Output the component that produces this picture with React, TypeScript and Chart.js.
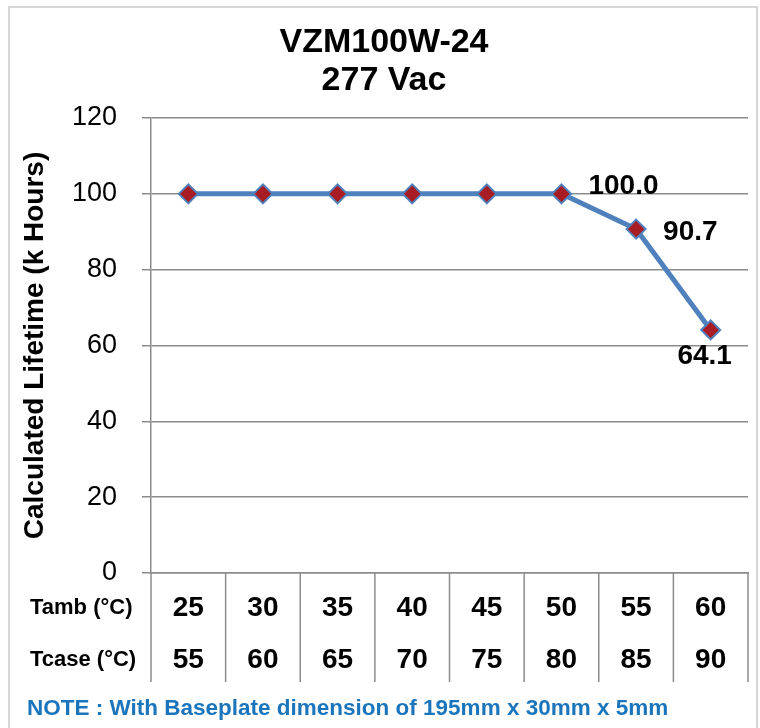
import React, { useEffect, useRef } from "react";
import { Chart, registerables } from "chart.js";

Chart.register(...registerables);

const TITLE = ["VZM100W-24", "277 Vac"];
const Y_TITLE = "Calculated Lifetime (k Hours)";
const TAMB = ["25", "30", "35", "40", "45", "50", "55", "60"];
const TCASE = ["55", "60", "65", "70", "75", "80", "85", "90"];
const LIFETIME = [100, 100, 100, 100, 100, 100, 90.7, 64.1];
const LABELED = [5, 6, 7];
const LABEL_POS = ["right", "right", "below"];
const ROW_HEADERS = ["Tamb (°C)", "Tcase (°C)"];
const NOTE = "NOTE : With Baseplate dimension of 195mm x 30mm x 5mm";
const Y_MIN = 0;
const Y_MAX = 120;
const Y_STEP = 20;

const FONT = "'Liberation Sans', Arial, Helvetica, sans-serif";
const GRID = "#8c8c8c";
const TABLE_H = 109;

const overlayPlugin = {
  id: "overlay",
  afterDraw(chart: any) {
    const ctx = chart.ctx;
    const meta = chart.getDatasetMeta(0);
    const xs = chart.scales.x;
    ctx.save();
    // table vertical lines
    ctx.strokeStyle = GRID;
    ctx.lineWidth = 1.5;
    for (let i = 0; i <= TAMB.length; i++) {
      const x = xs.getPixelForValue(i - 0.5);
      ctx.beginPath();
      ctx.moveTo(x, xs.top);
      ctx.lineTo(x, xs.top + TABLE_H);
      ctx.stroke();
    }
    // data labels
    ctx.fillStyle = "#000";
    ctx.font = `bold 28px ${FONT}`;
    ctx.textBaseline = "middle";
    LABELED.forEach((idx, k) => {
      const pt = meta.data[idx];
      const txt = LIFETIME[idx].toFixed(1);
      if (LABEL_POS[k] === "right") {
        ctx.textAlign = "left";
        ctx.fillText(txt, pt.x + 27, pt.y + (k === 0 ? -8 : 3));
      } else {
        ctx.textAlign = "center";
        ctx.fillText(txt, pt.x - 6, pt.y + 26);
      }
    });
    // row headers
    ctx.font = `bold 22px ${FONT}`;
    ctx.textAlign = "left";
    const top = xs.top;
    ctx.fillText(ROW_HEADERS[0], 30, top + 35);
    ctx.fillText(ROW_HEADERS[1], 30, top + 87);
    // note
    ctx.fillStyle = "#1b75bc";
    ctx.font = `bold 22.5px ${FONT}`;
    ctx.fillText(NOTE, 27, 709);
    ctx.restore();
  },
};

export default function App() {
  const ref = useRef<HTMLCanvasElement>(null);
  useEffect(() => {
    if (!ref.current) return;
    const chart = new Chart(ref.current, {
      type: "line",
      data: {
        labels: TAMB.map((t, i) => [t, TCASE[i]]),
        datasets: [
          {
            data: LIFETIME,
            borderColor: "#4f81bd",
            borderWidth: 5,
            pointStyle: "rectRot",
            pointRadius: 9.5,
            pointBackgroundColor: "#a81c24",
            pointBorderColor: "#4f81bd",
            pointBorderWidth: 2,
            tension: 0,
          },
        ],
      },
      options: {
        responsive: true,
        maintainAspectRatio: false,
        animation: false,
        layout: { padding: { left: 20, right: 12, top: 0, bottom: 42 } },
        plugins: {
          legend: { display: false },
          tooltip: { enabled: false },
          title: {
            display: true,
            text: TITLE,
            color: "#000",
            font: { family: FONT, size: 34, weight: "bold", lineHeight: 38 / 34 },
            padding: { top: 24, bottom: 18 },
          },
        },
        scales: {
          x: {
            offset: true,
            grid: {
              display: true,
              drawOnChartArea: false,
              drawTicks: false,
            },
            border: { display: true, color: GRID, width: 1.5 },
            ticks: {
              color: "#000",
              font: { family: FONT, size: 28, weight: "bold", lineHeight: 52 / 28 },
              padding: 9,
              maxRotation: 0,
              autoSkip: false,
            },
            afterFit: (s: any) => {
              s.height = TABLE_H + 4;
            },
          },
          y: {
            min: Y_MIN,
            max: Y_MAX,
            ticks: {
              stepSize: Y_STEP,
              color: "#000",
              font: { family: FONT, size: 27 },
              padding: 25,
            },
            grid: { color: GRID, lineWidth: 1.5, tickLength: 9 },
            border: { color: GRID, width: 1.5 },
            title: {
              display: true,
              text: Y_TITLE,
              color: "#000",
              font: { family: FONT, size: 28, weight: "bold", lineHeight: 1.1 },
              padding: 0,
            },
            afterFit: (s: any) => {
              s.width = 131;
            },
          },
        },
      },
      plugins: [overlayPlugin],
    } as any);
    return () => chart.destroy();
  }, []);

  return (
    <div
      style={{
        position: "absolute",
        left: 0,
        top: 0,
        width: 760,
        height: 728,
        overflow: "hidden",
        background: "#fff",
      }}
    >
      <div
        style={{
          position: "absolute",
          left: 8,
          top: 6,
          width: 746,
          height: 740,
          border: "2px solid #d6d6d6",
        }}
      />
      <canvas ref={ref} style={{ position: "absolute", left: 0, top: 0 }} />
    </div>
  );
}
